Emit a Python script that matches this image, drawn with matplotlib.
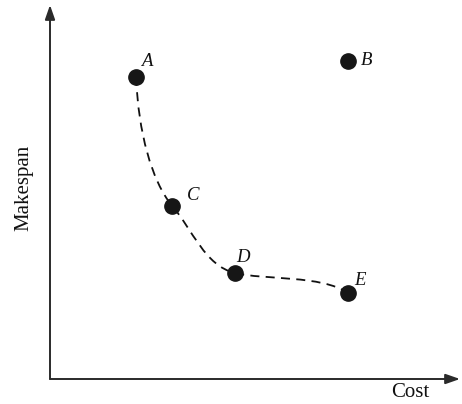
import numpy as np
import matplotlib
matplotlib.use("Agg")
import matplotlib.pyplot as plt
from matplotlib.path import Path
from matplotlib.patches import PathPatch

labels = ["A", "B", "C", "D", "E"]
cost = [2.10, 7.27, 2.98, 4.51, 7.27]
makespan = [8.32, 8.76, 4.77, 2.92, 2.37]
front = ["A", "C", "D", "E"]
# tangent directions of the hand-drawn front at each point (data units)
front_tangents = [(0.15, -4.5), (1.5, -2.0), (2.2, -0.6), (2.0, -1.5)]
# label offsets in pixels (dx, dy)
label_offsets = {"A": (11, 15), "B": (19, 0), "C": (21, 10), "D": (8, 15), "E": (12, 12)}

plt.rcParams['font.family'] = ['Liberation Serif', 'DejaVu Serif']

fig = plt.figure(figsize=(4.62, 4.04), dpi=100)
ax = fig.add_axes([50/462, 25/404, (460-50)/462, (379-5)/404])
ax.set_xlim(0, 10)
ax.set_ylim(0, 10.3)
ax.axis('off')

# axes arrows
for end in [(1, 0), (0, 1)]:
    ax.annotate('', xy=end, xytext=(0, 0), xycoords='axes fraction',
                arrowprops=dict(arrowstyle='-|>,head_length=0.86,head_width=0.3', lw=1.4,
                                color='#2a2a2a', shrinkA=0, shrinkB=0, mutation_scale=10),
                annotation_clip=False)

ax.text(0.878, -0.037, 'Cost', transform=ax.transAxes, ha='center', va='center',
        fontsize=15, color='#111')
ax.text(-0.063, 0.51, 'Makespan', transform=ax.transAxes, ha='center', va='center',
        rotation=90, fontsize=15, color='#111')

# smooth dashed Pareto front via cubic Hermite segments through the front points
idx = [labels.index(l) for l in front]
pts = np.array([[cost[i], makespan[i]] for i in idx])
tang = np.array(front_tangents)
verts = [tuple(pts[0])]
codes = [Path.MOVETO]
for k in range(len(pts) - 1):
    c1 = pts[k] + tang[k] / 3
    c2 = pts[k + 1] - tang[k + 1] / 3
    verts += [tuple(c1), tuple(c2), tuple(pts[k + 1])]
    codes += [Path.CURVE4] * 3
patch = PathPatch(Path(verts, codes), fill=False, ls=(0, (5, 3.5)), lw=1.3, color='#111')
ax.add_patch(patch)

ax.plot(cost, makespan, 'o', ms=11, color='#161616', zorder=3, clip_on=False)

for l, x, y in zip(labels, cost, makespan):
    dx, dy = label_offsets[l]
    ax.annotate(l, (x, y), xytext=(dx, dy), textcoords='offset pixels',
                ha='center', va='center', fontsize=13.5, style='italic', color='#111')

fig.savefig('out.png', dpi=100)
